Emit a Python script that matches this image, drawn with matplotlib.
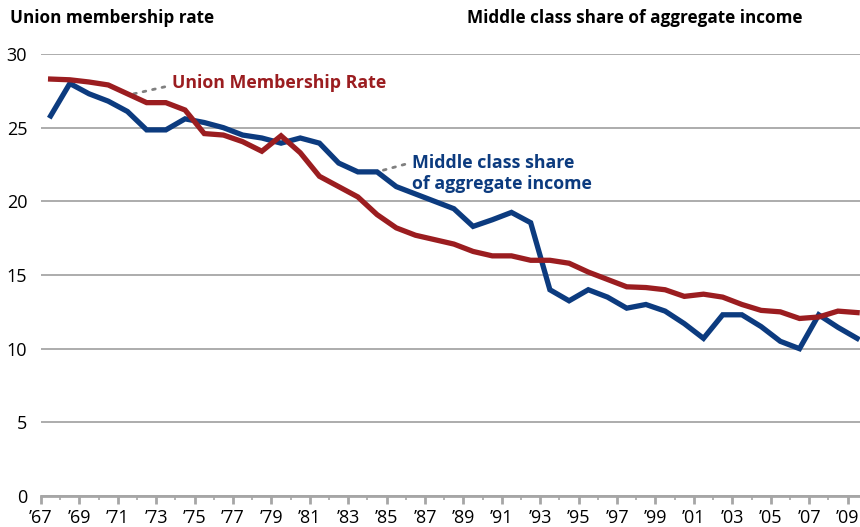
import matplotlib.pyplot as plt
from matplotlib.ticker import FixedLocator

plt.rcParams['font.family'] = ['Open Sans', 'DejaVu Sans']

years = list(range(1967, 2010))

union_rate = [28.3, 28.25, 28.1, 27.9, 27.3, 26.7, 26.7, 26.2, 24.6, 24.5,
              24.05, 23.4, 24.45, 23.3, 21.7, 21.0, 20.3, 19.1, 18.2, 17.7,
              17.4, 17.1, 16.6, 16.3, 16.3, 16.0, 16.0, 15.8, 15.2, 14.7,
              14.2, 14.15, 14.0, 13.55, 13.7, 13.5, 13.0, 12.6, 12.5, 12.05,
              12.15, 12.55, 12.45]

middle_share = [25.8, 28.0, 27.3, 26.8, 26.1, 24.85, 24.85, 25.6, 25.35, 25.0,
                24.5, 24.3, 23.95, 24.3, 23.95, 22.6, 22.0, 22.0, 21.0, 20.5,
                20.0, 19.5, 18.3, 18.75, 19.25, 18.55, 14.0, 13.25, 14.0, 13.5,
                12.75, 13.0, 12.55, 11.7, 10.7, 12.3, 12.3, 11.5, 10.5, 10.0,
                12.3, 11.45, 10.7]

tick_labels = ["\u2019" + str(y)[2:] for y in years[::2]]

red = '#9b1d20'
blue = '#0c3b7f'
grid_grey = '#a6a6a6'

fig = plt.figure(figsize=(8.6, 5.27), dpi=100)
ax = fig.add_axes([0.0477, 0.0588, 0.9523, 0.8387])

x = list(range(len(years)))
ax.plot(x, middle_share, color=blue, lw=3.8, solid_joinstyle='miter', zorder=3)
ax.plot(x, union_rate, color=red, lw=3.8, solid_joinstyle='miter', zorder=4)

ax.set_xlim(-0.5, 42.15)
ax.set_ylim(0, 30)
ax.set_yticks(range(0, 31, 5))
ax.yaxis.grid(True, color=grid_grey, lw=1.3)
ax.set_axisbelow(True)

ax.xaxis.set_major_locator(FixedLocator([i - 0.5 for i in x[::2]]))
ax.xaxis.set_minor_locator(FixedLocator([i - 0.5 for i in x[1::2]]))
ax.set_xticklabels(tick_labels)

for s in ['top', 'right', 'left']:
    ax.spines[s].set_visible(False)
ax.spines['bottom'].set_color(grid_grey)
ax.spines['bottom'].set_linewidth(2)
ax.tick_params(axis='y', length=0, pad=10, labelsize=13)
ax.tick_params(axis='x', which='major', length=6, width=2, color=grid_grey,
               pad=3, labelsize=13)
ax.tick_params(axis='x', which='minor', length=3, width=1.2, color=grid_grey)

fig.text(0.012, 0.965, 'Union membership rate', fontsize=12.3,
         fontweight='bold', va='center', ha='left')
fig.text(0.543, 0.965, 'Middle class share of aggregate income',
         fontsize=12.3, fontweight='bold', va='center', ha='left')

# annotations with dotted leaders
leader = dict(arrowstyle='-', color='#808080', ls=(0, (1, 2.5)), lw=2,
              shrinkA=3, shrinkB=0)
ax.annotate('Union Membership Rate', xy=(4.0, 27.2), xytext=(6.3, 28.0),
            color=red, fontsize=12.8, fontweight='bold', va='center',
            arrowprops=dict(leader, relpos=(0, 0.4)))
ax.annotate('Middle class share\nof aggregate income', xy=(17.0, 22.0),
            xytext=(18.8, 21.9), color=blue, fontsize=12.8,
            fontweight='bold', va='center', linespacing=1.2,
            arrowprops=dict(leader, relpos=(0, 0.78)))

fig.savefig('out.png', dpi=100)
